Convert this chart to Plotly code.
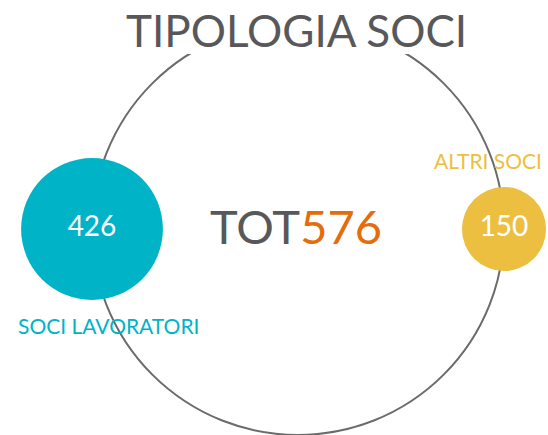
import math
import plotly.graph_objects as go

title = "TIPOLOGIA SOCI"
categories = ["SOCI LAVORATORI", "ALTRI SOCI"]
values = [426, 150]
colors = ["#00B3C7", "#EDBF41"]
total_label = "TOT"
total = sum(values)

W, H = 548, 435
CX, CY, R = 298, 229, 206          # ring geometry (px)
angles = [180, 0]                  # position of each bubble on the ring (deg)
k = 6.87                           # diameter per sqrt(value)
FONT = "Lato"

xs = [CX + R * math.cos(math.radians(a)) for a in angles]
ys = [CY - R * math.sin(math.radians(a)) for a in angles]
sizes = [k * math.sqrt(v) for v in values]

fig = go.Figure()
fig.add_trace(go.Scatter(
    x=xs, y=ys, mode="markers+text",
    marker=dict(size=sizes, color=colors, line=dict(width=0), opacity=1),
    text=[str(v) for v in values], textposition="middle center",
    textfont=dict(family=FONT, size=28, color="white"),
    hoverinfo="skip", showlegend=False,
))

fig.add_shape(type="circle", xref="x", yref="y",
              x0=CX - R, x1=CX + R, y0=CY - R, y1=CY + R,
              line=dict(color="#6b6b6b", width=2), layer="below")
fig.add_shape(type="rect", xref="x", yref="y", x0=110, x1=480, y0=0, y1=54,
              fillcolor="white", line=dict(width=0), layer="below")

fig.add_annotation(x=296, y=30, xref="x", yref="y", text=title, showarrow=False,
                   font=dict(family=FONT, size=44, color="#58585a"))
fig.add_annotation(x=296, y=226, xref="x", yref="y", showarrow=False,
                   text=f"{total_label}<span style='color:#E46C0A'>{total}</span>",
                   font=dict(family=FONT, size=47, color="#58585a"))
fig.add_annotation(x=108, y=325, xref="x", yref="y", text=categories[0], showarrow=False,
                   font=dict(family=FONT, size=21, color=colors[0]))
fig.add_annotation(x=488, y=160, xref="x", yref="y", text=categories[1], showarrow=False,
                   font=dict(family=FONT, size=21, color=colors[1]))

fig.update_layout(
    width=W, height=H, margin=dict(l=0, r=0, t=0, b=0),
    paper_bgcolor="white", plot_bgcolor="white",
    xaxis=dict(range=[0, W], visible=False, fixedrange=True),
    yaxis=dict(range=[H, 0], visible=False, fixedrange=True),
)
fig.write_html("out.html", config={"displayModeBar": False},
               post_script="document.body.style.margin='0';document.body.style.overflow='hidden';")
